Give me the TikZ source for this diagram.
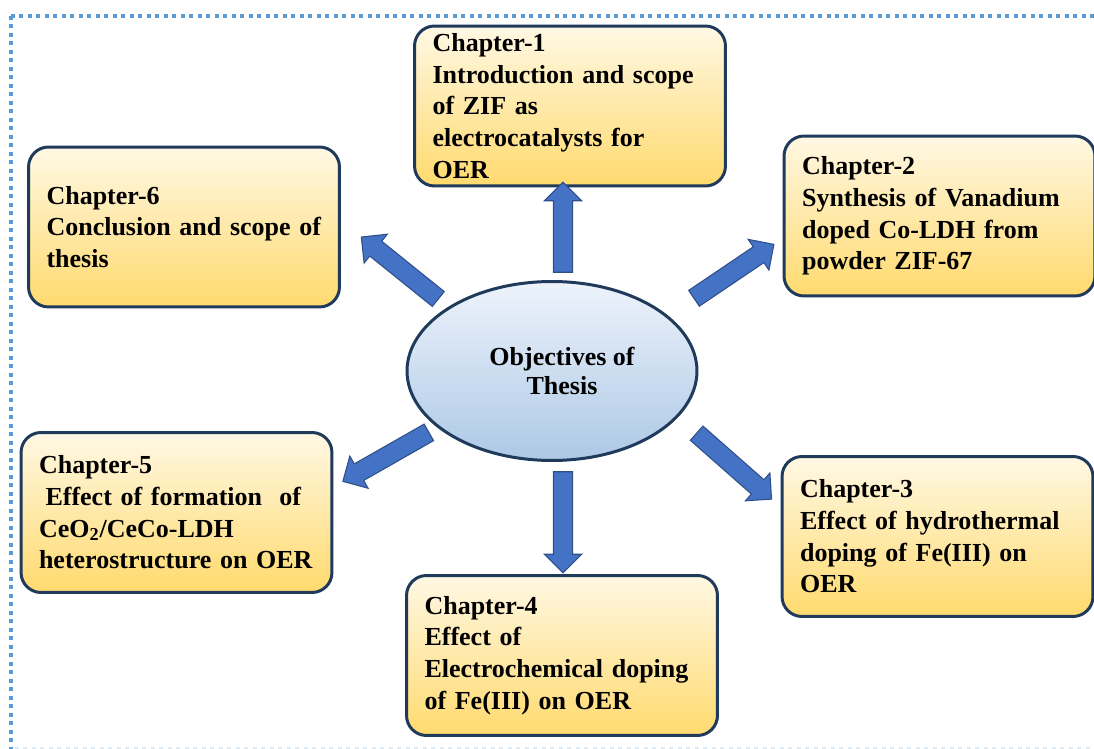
\documentclass[tikz,border=0pt]{standalone}
\usepackage{fontspec}
\setmainfont{Liberation Serif}
\usetikzlibrary{shapes.geometric, shapes.arrows, calc}

\definecolor{framedot}{HTML}{5B9BD5}
\definecolor{framefaint}{HTML}{DDEBF7}
\definecolor{navy}{HTML}{1F3A5A}
\definecolor{boxtop}{HTML}{FFF8E4}
\definecolor{boxbot}{HTML}{FFDA6E}
\definecolor{ovaltop}{HTML}{EDF3FB}
\definecolor{ovalbot}{HTML}{ADC8E6}
\definecolor{arrowblue}{HTML}{4472C4}
\definecolor{arrowedge}{HTML}{2F4F8A}

% block arrow from #2 to #3, named #1
\newcommand{\blockarrow}[3]{%
  \path let \p1=(#2), \p2=(#3),
    \n1={atan2(\y2-\y1,\x2-\x1)}, \n2={veclen(\x2-\x1,\y2-\y1)} in
    node[fat, minimum height=\n2, rotate=\n1] (#1) at ($(\p1)!0.5!(\p2)$) {};}

\begin{document}
\begin{tikzpicture}[x=0.02cm, y=-0.02cm,
            chapter/.style={rounded corners=0.4cm, draw=navy, line width=1.7pt,
                top color=boxtop, bottom color=boxbot,
                minimum width=6.22cm, minimum height=3.2cm,
                text width=5.5cm, inner xsep=0.36cm, inner ysep=0pt, align=left,
                font=\fontsize{14.8}{18}\selectfont\bfseries},
            objective/.style={ellipse, draw=navy, line width=1.7pt,
                top color=ovaltop, bottom color=ovalbot,
                minimum width=5.8cm, minimum height=3.58cm, inner sep=0pt,
                align=center, font=\fontsize{14.8}{17}\selectfont\bfseries},
            fat/.style={single arrow, draw=arrowedge, fill=arrowblue, line width=0.6pt,
                inner xsep=0pt, inner ysep=0.18cm, outer sep=0pt,
                single arrow head extend=0.18cm, single arrow tip angle=90},
            frame/.style={framedot, line width=0.08cm, dash pattern=on 0.08cm off 0.09cm}
        ]
            \useasboundingbox (0,0) rectangle (1094,749);

            % dotted frame
            \draw[frame] (11,16) -- (1094,16);
            \draw[frame] (11,16) -- (11,749);
            \draw[framefaint, line width=0.6pt, dash pattern=on 0.08cm off 0.09cm] (15,748) -- (1094,748);

            % centre
            \node[objective] (obj) at (552,371) {\hspace*{0.4cm}Objectives of\\\hspace*{0.4cm}Thesis};

            % chapters
            \node[chapter] (ch1) at (570,106) {Chapter-1\\Introduction and scope\\of ZIF as\\electrocatalysts for\\OER};
            \node[chapter] (ch2) at (939.5,216) {Chapter-2\\Synthesis of Vanadium\\doped Co-LDH from\\powder ZIF-67};
            \node[chapter] (ch3) at (937.5,536.5) {Chapter-3\\Effect of hydrothermal\\doping of Fe(III) on\\OER};
            \node[chapter] (ch4) at (562,655.5) {Chapter-4\\Effect of\\Electrochemical doping\\of Fe(III) on OER};
            \node[chapter] (ch5) at (176.5,512.5) {Chapter-5\\\hspace*{0.25em}Effect of formation\ \ of\\CeO\textsubscript{2}/CeCo-LDH\\heterostructure on OER};
            \node[chapter] (ch6) at (184,227) {Chapter-6\\Conclusion and scope of\\thesis};

            % arrows out of the centre
            \blockarrow{a1}{$(obj)+(11,-94)$}{$(ch1)+(-7,81)$}
            \blockarrow{a2}{$(obj)+(138,-70)$}{$(ch2)+(-169.5,31)$}
            \blockarrow{a3}{$(obj)+(141,59)$}{$(ch3)+(-169.5,-40.5)$}
            \blockarrow{a4}{$(obj)+(11,96)$}{$(ch4)+(1,-87.5)$}
            \blockarrow{a5}{$(obj)+(-119,59)$}{$(ch5)+(170.5,-33.5)$}
            \blockarrow{a6}{$(obj)+(-110,-69)$}{$(ch6)+(181,13)$}
        \end{tikzpicture}
\end{document}
